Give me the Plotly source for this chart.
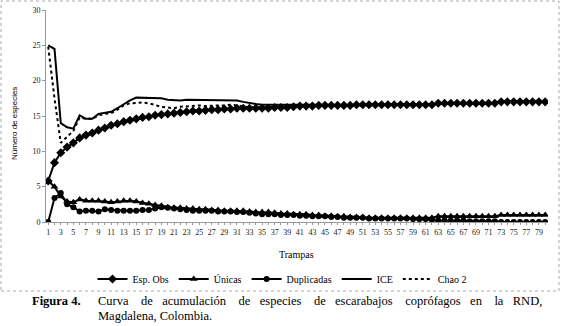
import plotly.graph_objects as go

trampas = list(range(1, 81))

esp_obs = [5.8, 8.4, 9.8, 10.6, 11.2, 11.9, 12.3, 12.6, 13.0, 13.3,
           13.7, 13.9, 14.2, 14.4, 14.6, 14.8, 14.9, 15.1, 15.2, 15.3,
           15.4, 15.5, 15.6, 15.7, 15.7, 15.8, 15.9, 15.9, 16.0, 16.0,
           16.1, 16.1, 16.1, 16.1, 16.1, 16.1, 16.2, 16.2, 16.2, 16.3,
           16.4, 16.4, 16.4, 16.5, 16.5, 16.5, 16.5, 16.5, 16.5, 16.6,
           16.6, 16.6, 16.6, 16.6, 16.6, 16.6, 16.6, 16.6, 16.6, 16.6,
           16.6, 16.6, 16.8, 16.8, 16.8, 16.8, 16.8, 16.8, 16.8, 16.8,
           16.8, 16.8, 17.0, 17.0, 17.0, 17.0, 17.0, 17.0, 17.0, 17.0]

unicas = [5.8, 5.0, 3.6, 2.9, 2.8, 3.2, 3.0, 3.0, 3.0, 2.9,
          2.8, 2.9, 3.0, 3.0, 2.9, 2.7, 2.6, 2.4, 2.3, 2.1,
          2.0, 2.0, 1.9, 1.9, 1.8, 1.8, 1.7, 1.7, 1.6, 1.6,
          1.6, 1.6, 1.5, 1.4, 1.4, 1.4, 1.3, 1.2, 1.2, 1.1,
          1.1, 1.1, 1.0, 1.0, 0.9, 0.9, 0.8, 0.8, 0.7, 0.7,
          0.7, 0.6, 0.6, 0.6, 0.6, 0.6, 0.6, 0.6, 0.6, 0.6,
          0.6, 0.6, 0.8, 0.8, 0.8, 0.8, 0.8, 0.8, 0.8, 0.8,
          0.8, 0.8, 1.0, 1.0, 1.0, 1.0, 1.0, 1.0, 1.0, 1.0]

duplicadas = [0.0, 3.4, 4.1, 2.5, 2.1, 1.5, 1.6, 1.6, 1.5, 1.8,
              1.7, 1.6, 1.6, 1.6, 1.6, 1.7, 1.7, 1.9, 2.1, 2.0,
              1.9, 1.8, 1.7, 1.6, 1.6, 1.6, 1.6, 1.5, 1.5, 1.5,
              1.4, 1.4, 1.3, 1.2, 1.1, 1.1, 1.1, 1.0, 1.0, 1.0,
              0.9, 0.9, 0.8, 0.8, 0.8, 0.7, 0.7, 0.6, 0.6, 0.6,
              0.6, 0.5, 0.5, 0.5, 0.5, 0.5, 0.5, 0.5, 0.4, 0.4,
              0.4, 0.3, 0.2, 0.2, 0.2, 0.2, 0.2, 0.1, 0.1, 0.1,
              0.1, 0.1, 0.0, 0.0, 0.0, 0.0, 0.0, 0.0, 0.0, 0.0]

ice = [25.0, 24.5, 14.0, 13.4, 13.2, 15.1, 14.6, 14.6, 15.3, 15.5,
       15.6, 16.1, 16.7, 17.2, 17.6, 17.6, 17.5, 17.5, 17.5, 17.3,
       17.2, 17.2, 17.3, 17.3, 17.2, 17.2, 17.3, 17.3, 17.3, 17.3,
       17.2, 17.0, 16.8, 16.7, 16.6, 16.6, 16.6, 16.6, 16.6, 16.6,
       16.6, 16.6, 16.55, 16.55, 16.55, 16.55, 16.55, 16.55, 16.55, 16.6,
       16.6, 16.6, 16.6, 16.6, 16.6, 16.6, 16.6, 16.6, 16.6, 16.6,
       16.6, 16.6, 16.8, 16.8, 16.8, 16.8, 16.8, 16.8, 16.8, 16.8,
       16.8, 16.8, 17.0, 17.0, 17.0, 17.0, 17.0, 17.0, 17.0, 17.0]

chao2 = [24.8, 17.5, 11.2, 12.1, 12.9, 14.8, 14.6, 14.6, 15.1, 15.3,
         15.4, 15.9, 16.5, 16.8, 16.9, 16.9, 16.8, 16.5, 16.3, 16.2,
         16.1, 16.3, 16.4, 16.4, 16.5, 16.4, 16.5, 16.5, 16.5, 16.6,
         16.5, 16.3, 16.2, 16.2, 16.2, 16.2, 16.2, 16.2, 16.2, 16.3,
         16.4, 16.4, 16.4, 16.5, 16.5, 16.5, 16.5, 16.5, 16.5, 16.6,
         16.6, 16.6, 16.6, 16.6, 16.6, 16.6, 16.6, 16.6, 16.6, 16.6,
         16.6, 16.6, 16.8, 16.8, 16.8, 16.8, 16.8, 16.8, 16.8, 16.8,
         16.8, 16.8, 17.0, 17.0, 17.0, 17.0, 17.0, 17.0, 17.0, 17.0]

caption_label = "Figura 4."
caption_line1 = "Curva de acumulación de especies de escarabajos coprófagos en la RND,"
caption_line2 = "Magdalena, Colombia."

x_ticktext = [str(t) if t % 2 == 1 else "" for t in trampas]
y_ticks = [0, 5, 10, 15, 20, 25, 30]

W, H = 561, 326
L, R, T, B = 46, 13, 10, 104
PW, PH = W - L - R, H - T - B


def px(xp):
    return (xp - L) / PW


def py(yp):
    return (H - B - yp) / PH


def justify(text):
    words = text.split(" ")
    out = words[0]
    for i, w in enumerate(words[1:]):
        out += ("\u00a0" * (4 if i % 2 == 0 else 3)) + w
    return out


SERIF = "Liberation Serif"
SANS = "Liberation Sans"

fig = go.Figure()
fig.add_trace(go.Scatter(x=trampas, y=esp_obs, name="Esp. Obs", mode="lines+markers",
                         line=dict(color="black", width=2),
                         marker=dict(symbol="diamond", size=7, color="black")))
fig.add_trace(go.Scatter(x=trampas, y=unicas, name="Únicas", mode="lines+markers",
                         line=dict(color="black", width=2),
                         marker=dict(symbol="triangle-up", size=7, color="black")))
fig.add_trace(go.Scatter(x=trampas, y=duplicadas, name="Duplicadas", mode="lines+markers",
                         line=dict(color="black", width=2),
                         marker=dict(symbol="circle", size=6, color="black")))
fig.add_trace(go.Scatter(x=trampas, y=ice, name="ICE", mode="lines",
                         line=dict(color="black", width=2)))
fig.add_trace(go.Scatter(x=trampas, y=chao2, name="Chao 2", mode="lines",
                         line=dict(color="black", width=2, dash="dot")))

fig.update_layout(
    width=W, height=H,
    margin=dict(l=L, r=R, t=T, b=B, autoexpand=False),
    paper_bgcolor="white", plot_bgcolor="white",
    showlegend=True,
    legend=dict(orientation="h", x=px(282), xanchor="center", y=py(279), yanchor="middle",
                font=dict(family=SERIF, size=10, color="black"),
                itemwidth=30, tracegroupgap=0, bgcolor="rgba(0,0,0,0)"),
    xaxis=dict(range=[0.65, 80.45], tickmode="array", tickvals=trampas, ticktext=x_ticktext,
               showgrid=False, zeroline=False, showline=True, linecolor="#999", linewidth=1,
               ticks="outside", ticklen=2, tickcolor="#999",
               tickfont=dict(family=SERIF, size=8, color="#222")),
    yaxis=dict(range=[0, 30], tickmode="array", tickvals=y_ticks,
               showgrid=False, zeroline=False, showline=True, linecolor="#999", linewidth=1,
               ticks="outside", ticklen=3, tickcolor="#999",
               tickfont=dict(family=SERIF, size=8, color="#222")),
    shapes=[dict(type="rect", xref="paper", yref="paper",
                 x0=px(1), x1=px(559), y0=py(291), y1=py(1),
                 line=dict(color="#aaa", width=1, dash="dot"))],
    annotations=[
        dict(text="Trampas", xref="paper", yref="paper", x=px(296), y=py(254),
             xanchor="center", yanchor="middle", showarrow=False,
             font=dict(family=SERIF, size=10, color="black")),
        dict(text="Número de especies", xref="paper", yref="paper", x=px(14), y=py(124),
             xanchor="center", yanchor="middle", textangle=-90, showarrow=False,
             font=dict(family=SANS, size=8, color="black")),
        dict(text="<b>" + caption_label + "</b>", xref="paper", yref="paper", x=px(30), y=py(301),
             xanchor="left", yanchor="middle", showarrow=False,
             font=dict(family=SERIF, size=12.5, color="black")),
        dict(text=justify(caption_line1),
             xref="paper", yref="paper", x=px(96), y=py(301),
             xanchor="left", yanchor="middle", showarrow=False,
             font=dict(family=SERIF, size=12.5, color="black")),
        dict(text=caption_line2, xref="paper", yref="paper", x=px(96), y=py(316),
             xanchor="left", yanchor="middle", showarrow=False,
             font=dict(family=SERIF, size=12.5, color="black")),
    ],
)

fig.write_html("out.html", config={"displayModeBar": False},
               post_script="document.body.style.margin='0';document.body.style.overflow='hidden';")
